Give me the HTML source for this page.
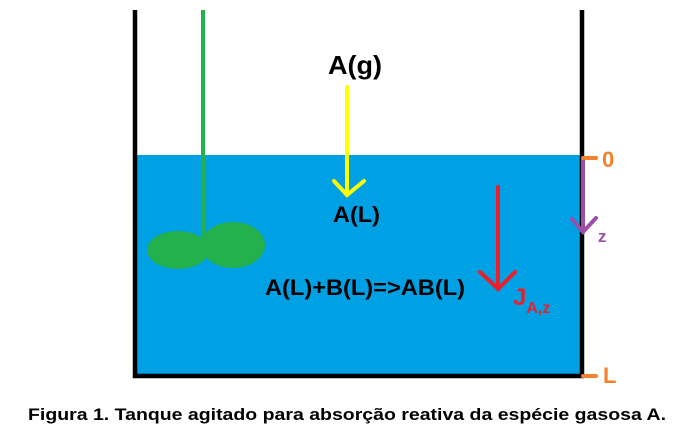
<!DOCTYPE html>
<html><head><meta charset="utf-8"><style>
html,body{margin:0;padding:0;background:#fff;width:694px;height:436px;overflow:hidden}
svg{display:block}
text{font-family:"Liberation Sans",sans-serif;font-weight:bold}
</style></head><body>
<svg width="694" height="436" viewBox="0 0 694 436">
<rect x="137" y="155" width="445" height="220" fill="#00a0e4"/>
<path d="M135 10 V376 H582 V10" fill="none" stroke="#000" stroke-width="4.5"/>
<line x1="203" y1="10" x2="203" y2="238" stroke="#22b14c" stroke-width="4"/>
<ellipse cx="178" cy="250" rx="31" ry="19" fill="#22b14c"/>
<ellipse cx="233" cy="245" rx="32" ry="23" fill="#22b14c"/>
<text x="328" y="74" font-size="26" textLength="54" lengthAdjust="spacingAndGlyphs" fill="#000">A(g)</text>
<g stroke="#ffff00" stroke-width="4" fill="none" stroke-linecap="round">
<line x1="347" y1="87" x2="347" y2="195"/><path d="M334 181 L347 195 L364 181"/></g>
<text x="333" y="222" font-size="22" textLength="47" lengthAdjust="spacingAndGlyphs" fill="#000">A(L)</text>
<text x="265" y="295" font-size="22" textLength="200" lengthAdjust="spacingAndGlyphs" fill="#000">A(L)+B(L)=&gt;AB(L)</text>
<g stroke="#e8202c" stroke-width="4" fill="none" stroke-linecap="round">
<line x1="498" y1="187" x2="498" y2="289"/><path d="M480 272 L498 289 L515 272"/></g>
<text x="513" y="305" font-size="24" fill="#e8202c">J<tspan font-size="16" dy="8">A,z</tspan></text>
<g stroke="#9b4fa8" stroke-width="4" fill="none" stroke-linecap="round">
<line x1="583" y1="160" x2="583" y2="232"/><path d="M572 219 L583 232 L596 218"/></g>
<text x="598" y="242" font-size="17" fill="#9b4fa8">z</text>
<line x1="583" y1="158" x2="596" y2="158" stroke="#f5822a" stroke-width="4" stroke-linecap="round"/>
<text x="602" y="167" font-size="22" fill="#f5822a">0</text>
<line x1="583" y1="376" x2="596" y2="376" stroke="#f5822a" stroke-width="4" stroke-linecap="round"/>
<text x="603" y="383" font-size="22" fill="#f5822a">L</text>
<text x="28" y="420" font-size="17" textLength="638" lengthAdjust="spacingAndGlyphs" fill="#000">Figura 1. Tanque agitado para absorção reativa da espécie gasosa A.</text>
</svg>
</body></html>
